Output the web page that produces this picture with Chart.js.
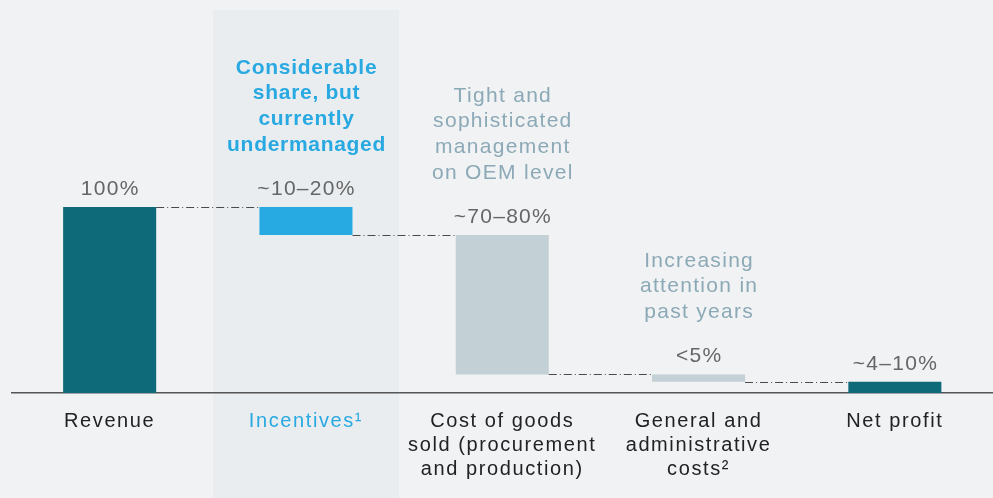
<!DOCTYPE html>
<html><head><meta charset="utf-8">
<script src="https://cdn.jsdelivr.net/npm/chart.js@4"></script>
<style>html,body{margin:0;padding:0;background:#f1f2f4;overflow:hidden;}</style>
</head><body>
<canvas id="c" width="993" height="498"></canvas>
<script>
const categories = [["Revenue"], ["Incentives¹"], ["Cost of goods", "sold (procurement", "and production)"], ["General and", "administrative", "costs²"], ["Net profit"]];
const barStart = [0, 85, 10, 6, 0];
const barEnd = [100, 100, 85, 10, 6];
const valueLabels = ["100%", "~10–20%", "~70–80%", "<5%", "~4–10%"];
const barColors = ["#0e6a78", "#27a9e1", "#c3d0d6", "#c3d0d6", "#0e6a78"];
const tickColors = ["#222222", "#29a9e1", "#222222", "#222222", "#222222"];
const notes = [null, ["Considerable", "share, but", "currently", "undermanaged"], ["Tight and", "sophisticated", "management", "on OEM level"], ["Increasing", "attention in", "past years"], null];
const noteColors = [null, "#29a9e1", "#8ba9b6", "#8ba9b6", null];
const noteBold = [false, true, false, false, false];
const highlightIndex = 1;

const FONT = '"Liberation Sans", Arial, Helvetica, sans-serif';

const decor = {
  id: 'decor',
  beforeDraw(chart) {
    const ctx = chart.ctx, x = chart.scales.x;
    ctx.save();
    ctx.fillStyle = '#f1f2f4';
    ctx.fillRect(0, 0, chart.width, chart.height);
    const cw = x.getPixelForValue(1) - x.getPixelForValue(0);
    const cx = x.getPixelForValue(highlightIndex);
    const hw = cw * 0.948 / 2;
    ctx.fillStyle = '#e9edf0';
    ctx.fillRect(cx - hw, 10, hw * 2, chart.height - 10);
    ctx.restore();
    ctx.letterSpacing = '1.6px';
  },
  afterDatasetsDraw(chart) {
    const ctx = chart.ctx, y = chart.scales.y;
    const els = chart.getDatasetMeta(0).data;
    ctx.save();
    // connectors
    ctx.strokeStyle = '#4a4a4a';
    ctx.lineWidth = 1;
    ctx.setLineDash([8, 3, 1, 3]);
    for (let i = 0; i < els.length - 1; i++) {
      const a = els[i], b = els[i + 1];
      const ly = Math.round(y.getPixelForValue(barEnd[i + 1])) + 0.5;
      ctx.beginPath();
      ctx.moveTo(a.x + a.width / 2, ly);
      ctx.lineTo(b.x - b.width / 2, ly);
      ctx.stroke();
    }
    ctx.setLineDash([]);
    // value labels
    ctx.textAlign = 'center';
    ctx.textBaseline = 'middle';
    ctx.fillStyle = '#666666';
    ctx.font = '21px ' + FONT;
    ctx.letterSpacing = '1.3px';
    els.forEach((e, i) => {
      const top = y.getPixelForValue(barEnd[i]);
      ctx.fillText(valueLabels[i], e.x + 0.6, top - 18);
    });
    // notes
    els.forEach((e, i) => {
      const lines = notes[i];
      if (!lines) return;
      const top = y.getPixelForValue(barEnd[i]);
      const lastY = top - 18 - 44;
      ctx.fillStyle = noteColors[i];
      ctx.font = (noteBold[i] ? 'bold ' : '') + '21px ' + FONT;
      ctx.letterSpacing = noteBold[i] ? '0.7px' : '1.3px';
      const lh = 25.7;
      lines.forEach((t, k) => {
        ctx.fillText(t, e.x + 0.6, lastY - (lines.length - 1 - k) * lh);
      });
    });
    ctx.restore();
  }
};

new Chart(document.getElementById('c'), {
  type: 'bar',
  data: {
    labels: categories,
    datasets: [{
      data: barStart.map((s, i) => [s, barEnd[i]]),
      backgroundColor: barColors,
      borderWidth: 0,
      borderSkipped: false,
      barPercentage: 0.474,
      categoryPercentage: 1
    }]
  },
  options: {
    responsive: false,
    animation: false,
    events: [],
    layout: { padding: { left: 11.5, right: 0, top: 21, bottom: 0 } },
    plugins: { legend: { display: false }, tooltip: { enabled: false } },
    scales: {
      y: { display: false, min: 0, max: 200 },
      x: {
        afterFit: s => { s.height = 105; },
        grid: { display: false, drawTicks: false },
        border: { display: true, color: '#555555', width: 1.5 },
        ticks: {
          padding: 17,
          color: c => tickColors[c.index],
          font: { family: FONT, size: 20, lineHeight: 1.18 },
          maxRotation: 0,
          autoSkip: false
        }
      }
    }
  },
  plugins: [decor]
});
</script>
</body></html>
